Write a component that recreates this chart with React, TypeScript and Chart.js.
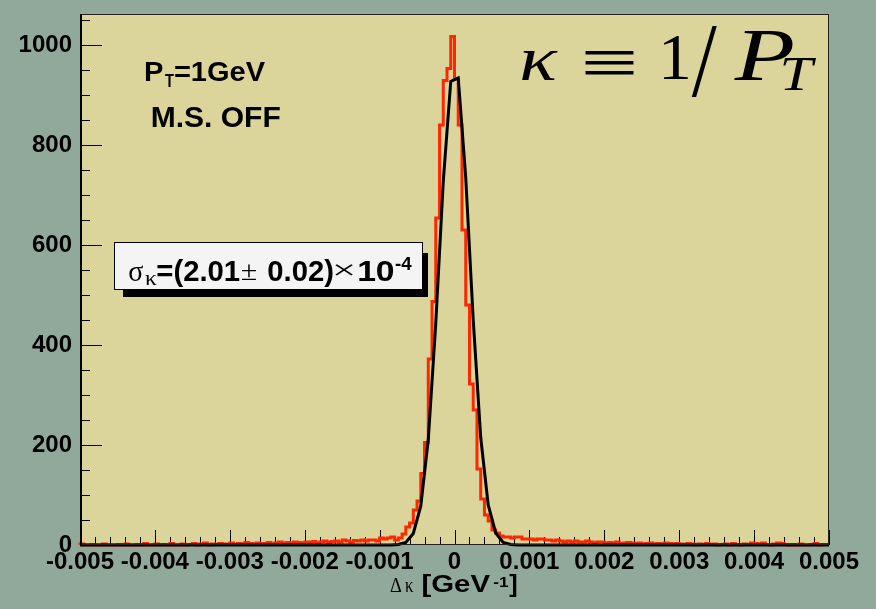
import { useEffect, useRef } from "react";
import { Chart, registerables } from "chart.js";

Chart.register(...registerables);

// ---- data ----
const X_MIN = -0.005;
const X_MAX = 0.005;
const BIN_WIDTH = 0.00005; // 200 bins
const Y_MAX = 1062;

// histogram counts, bin k = -100 .. 99 (left edge = k * 0.00005)
const histCounts = [
  0, 2, 0, 0, 1, 0, 0, 2, 0, 0,
  0, 1, 0, 2, 0, 0, 1, 0, 3, 0,
  0, 2, 0, 1, 0, 3, 0, 0, 2, 0,
  1, 3, 0, 2, 4, 0, 2, 1, 3, 2,
  2, 4, 1, 3, 2, 5, 3, 2, 4, 3,
  3, 5, 2, 4, 6, 3, 5, 4, 6, 5,
  4, 6, 5, 7, 4, 6, 8, 5, 7, 8,
  6, 10, 8, 6, 9, 8, 10, 8, 10, 10,
  8, 14, 12, 14, 16, 10, 14, 22, 36, 44,
  70, 88, 143, 205, 372, 487, 654, 840, 929, 953,
  1017, 932, 840, 630, 480, 322, 270, 152, 92, 60,
  48, 30, 24, 18, 16, 16, 14, 16, 16, 12,
  12, 12, 10, 12, 12, 10, 10, 8, 10, 8,
  6, 8, 6, 8, 6, 6, 8, 6, 4, 6,
  6, 4, 5, 4, 6, 3, 4, 5, 4, 3,
  4, 2, 3, 4, 2, 3, 2, 4, 3, 2,
  3, 2, 1, 3, 2, 0, 2, 1, 3, 1,
  2, 0, 1, 2, 0, 3, 1, 0, 2, 1,
  4, 3, 2, 4, 1, 0, 2, 4, 3, 1,
  0, 1, 0, 2, 0, 0, 1, 3, 0, 1,
];

// Gaussian fit curve
const fitX = [
  -0.005, -0.00085, -0.00075, -0.00065, -0.00055, -0.00045, -0.00035, -0.00025,
  -0.00015, -0.00005, 0.00005, 0.00015, 0.00025, 0.00035, 0.00045, 0.00055,
  0.00065, 0.00075, 0.00085, 0.005,
];
const fitY = [
  0, 0, 1, 5, 23, 78, 211, 443,
  727, 927, 934, 735, 450, 215, 80, 24,
  5, 1, 0, 0,
];

const xTickValues = [-0.005, -0.004, -0.003, -0.002, -0.001, 0, 0.001, 0.002, 0.003, 0.004, 0.005];
const xTickLabels = ["-0.005", "-0.004", "-0.003", "-0.002", "-0.001", "0", "0.001", "0.002", "0.003", "0.004", "0.005"];
const yTickValues = [0, 200, 400, 600, 800, 1000];
const yTickLabels = ["0", "200", "400", "600", "800", "1000"];

const sigmaText = { value: "2.01", error: "0.02", exponent: "-4" };
const momentumText = "1GeV";
const msText = "M.S. OFF";

// ---- styles ----
const BG = "#91a99b";
const PLOT_BG = "#dcd59b";
const HIST_COLOR = "#ff2600";
const SANS = "'Liberation Sans', Arial, Helvetica, sans-serif";
const SERIF = "'Liberation Serif', 'DejaVu Serif', serif";

// draw a string on a baseline, stretched horizontally so its ink spans x0..x1
function stretchText(
  ctx: CanvasRenderingContext2D,
  s: string,
  font: string,
  x0: number,
  x1: number,
  baseline: number
) {
  ctx.save();
  ctx.font = font;
  ctx.textAlign = "left";
  ctx.textBaseline = "alphabetic";
  const m = ctx.measureText(s);
  const w = m.actualBoundingBoxLeft + m.actualBoundingBoxRight;
  ctx.translate(x0, baseline);
  ctx.scale((x1 - x0) / w, 1);
  ctx.fillText(s, m.actualBoundingBoxLeft, 0);
  ctx.restore();
}

// draw a string so that its ink fills the given box
function boxText(
  ctx: CanvasRenderingContext2D,
  s: string,
  font: string,
  x0: number,
  x1: number,
  y0: number,
  y1: number
) {
  ctx.save();
  ctx.font = font;
  ctx.textAlign = "left";
  ctx.textBaseline = "alphabetic";
  const m = ctx.measureText(s);
  const w = m.actualBoundingBoxLeft + m.actualBoundingBoxRight;
  const h = m.actualBoundingBoxAscent + m.actualBoundingBoxDescent;
  ctx.translate(x0, y0);
  ctx.scale((x1 - x0) / w, (y1 - y0) / h);
  ctx.fillText(s, m.actualBoundingBoxLeft, m.actualBoundingBoxAscent);
  ctx.restore();
}

const decorPlugin = {
  id: "decor",
  beforeDraw(chart: any) {
    const { ctx, chartArea: a } = chart;
    ctx.save();
    ctx.fillStyle = BG;
    ctx.fillRect(0, 0, chart.width, chart.height);
    ctx.fillStyle = PLOT_BG;
    ctx.fillRect(a.left, a.top, a.right - a.left, a.bottom - a.top);
    ctx.restore();
  },
  beforeDatasetsDraw(chart: any) {
    const { ctx, chartArea: a, scales } = chart;
    const xs = scales.x;
    const ys = scales.y;
    ctx.save();
    ctx.strokeStyle = "#000";
    ctx.lineWidth = 1;
    ctx.beginPath();
    // x ticks: 5 subdivisions per 0.001
    for (let i = 0; i <= 50; i++) {
      const v = X_MIN + i * 0.0002;
      const px = Math.round(xs.getPixelForValue(v)) + 0.5;
      const len = i % 5 === 0 ? 15 : 8;
      ctx.moveTo(px, a.bottom);
      ctx.lineTo(px, a.bottom - len);
    }
    // y ticks: 4 subdivisions per 200
    for (let i = 0; i * 50 <= Y_MAX; i++) {
      const py = Math.round(ys.getPixelForValue(i * 50)) + 0.5;
      const len = i % 4 === 0 ? 22 : 10;
      ctx.moveTo(a.left, py);
      ctx.lineTo(a.left + len, py);
    }
    ctx.stroke();
    ctx.restore();
  },
  afterDatasetsDraw(chart: any) {
    const { ctx, chartArea: a } = chart;
    ctx.save();
    // frame
    ctx.strokeStyle = "#222";
    ctx.lineWidth = 1;
    ctx.strokeRect(a.left + 0.5, a.top + 0.5, a.right - a.left - 1, a.bottom - a.top - 1);
    ctx.strokeStyle = "#000";
    ctx.lineWidth = 2;
    ctx.beginPath();
    ctx.moveTo(a.left + 1, a.top);
    ctx.lineTo(a.left + 1, a.bottom);
    ctx.stroke();

    ctx.fillStyle = "#000";
    const B = (n: number) => `bold ${n}px ${SANS}`;
    const S = (n: number) => `${n}px ${SERIF}`;
    const SI = (n: number) => `italic ${n}px ${SERIF}`;

    // P_T = 1GeV
    stretchText(ctx, "P", B(27), 145, 163.3, 80.5);
    stretchText(ctx, "T", B(18), 165, 174, 86.7);
    stretchText(ctx, "=" + momentumText, B(27), 175, 265, 80.5);
    // M.S. OFF
    stretchText(ctx, msText, B(29), 151.7, 280, 127.3);

    // sigma box
    ctx.fillStyle = "#000";
    ctx.fillRect(123, 253, 305, 44);
    ctx.fillStyle = "#f4f4f4";
    ctx.fillRect(114, 242, 309, 48);
    ctx.strokeStyle = "#000";
    ctx.lineWidth = 1;
    ctx.strokeRect(114.5, 242.5, 308, 47);
    ctx.fillStyle = "#000";
    stretchText(ctx, "σ", S(30), 129.3, 143.3, 281);
    stretchText(ctx, "κ", S(20), 145, 156.7, 285);
    stretchText(ctx, "=(" + sigmaText.value, B(29), 157.3, 240, 281);
    stretchText(ctx, "±", S(28), 241.7, 256.7, 280);
    stretchText(ctx, sigmaText.error + ")", B(29), 268.3, 333.3, 281);
    stretchText(ctx, "×", S(28), 335, 353.3, 279);
    stretchText(ctx, "10", B(29), 358.3, 393.3, 281);
    stretchText(ctx, sigmaText.exponent, B(18), 395, 411.7, 270);

    // kappa = 1/P_T
    stretchText(ctx, "κ", SI(64), 521.7, 558.3, 80);
    boxText(ctx, "≡", S(64), 585, 633.3, 50, 75);
    stretchText(ctx, "1", S(65), 663.3, 688.3, 79.3);
    boxText(ctx, "/", S(90), 691.7, 716.7, 25, 96.7);
    stretchText(ctx, "P", SI(74), 733.3, 793.3, 80);
    stretchText(ctx, "T", SI(48), 783.3, 816.7, 90);

    // x axis title
    stretchText(ctx, "Δ", S(22), 390, 401.7, 592);
    stretchText(ctx, "κ", S(22), 405, 413.3, 592);
    stretchText(ctx, "[GeV", B(24), 422.7, 490, 592);
    stretchText(ctx, "-1", B(15), 493.3, 508.3, 586.7);
    stretchText(ctx, "]", B(24), 509.3, 516.7, 592);
    ctx.restore();
  },
};

export default function App() {
  const ref = useRef<HTMLCanvasElement | null>(null);

  useEffect(() => {
    if (!ref.current) return;
    const histData = histCounts.map((v, i) => ({ x: X_MIN + i * BIN_WIDTH, y: v }));
    histData.push({ x: X_MAX, y: histCounts[histCounts.length - 1] });
    const fitData = fitX.map((x, i) => ({ x, y: fitY[i] }));

    const chart = new Chart(ref.current, {
      type: "line",
      data: {
        datasets: [
          {
            label: "fit",
            data: fitData,
            borderColor: "#000",
            borderWidth: 3,
            pointRadius: 0,
            tension: 0,
            fill: false,
            clip: 4,
          },
          {
            label: "hist",
            data: histData,
            borderColor: HIST_COLOR,
            borderWidth: 3,
            pointRadius: 0,
            stepped: "after",
            fill: false,
            clip: 4,
          },
        ],
      },
      options: {
        animation: false,
        responsive: false,
        devicePixelRatio: 1,
        layout: { padding: { top: 14, right: 47, left: 0, bottom: 0 } },
        plugins: { legend: { display: false }, tooltip: { enabled: false } },
        scales: {
          x: {
            type: "linear",
            min: X_MIN,
            max: X_MAX,
            grid: { display: false, drawTicks: false },
            border: { display: false },
            afterBuildTicks: (s: any) => {
              s.ticks = xTickValues.map((v) => ({ value: v }));
            },
            afterFit: (s: any) => {
              s.height = 64;
              s.paddingLeft = 0;
              s.paddingRight = 0;
            },
            ticks: {
              autoSkip: false,
              maxRotation: 0,
              minRotation: 0,
              padding: 3,
              color: "#000",
              font: { family: SANS, size: 24, weight: "bold" },
              callback: (_v: any, i: number) => xTickLabels[i],
            },
          },
          y: {
            type: "linear",
            min: 0,
            max: Y_MAX,
            grid: { display: false, drawTicks: false },
            border: { display: false },
            afterBuildTicks: (s: any) => {
              s.ticks = yTickValues.map((v) => ({ value: v }));
            },
            afterFit: (s: any) => {
              s.width = 80;
              s.paddingTop = 0;
              s.paddingBottom = 0;
            },
            ticks: {
              padding: 8,
              color: "#000",
              font: { family: SANS, size: 24, weight: "bold" },
              callback: (_v: any, i: number) => yTickLabels[i],
            },
          },
        },
      },
      plugins: [decorPlugin],
    });
    return () => chart.destroy();
  }, []);

  return (
    <div style={{ position: "absolute", left: 0, top: 0, width: 876, height: 609, background: BG }}>
      <canvas ref={ref} width={876} height={609} style={{ display: "block" }} />
    </div>
  );
}
